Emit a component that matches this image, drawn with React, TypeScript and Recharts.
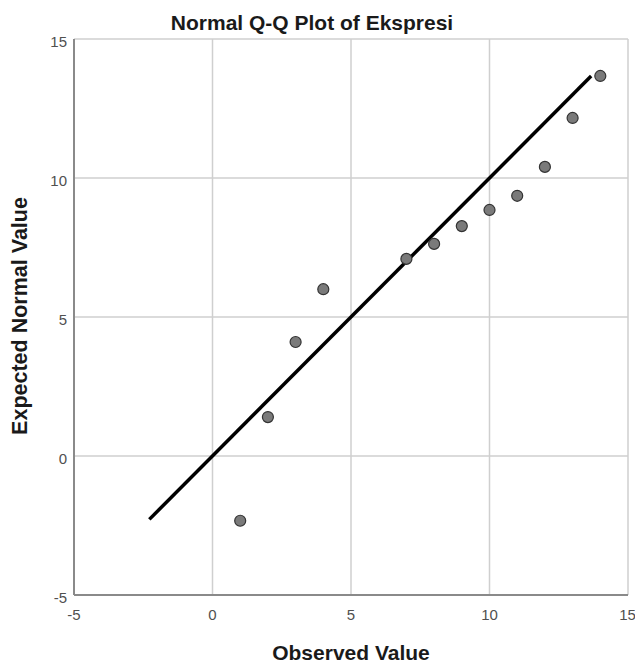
import React from "react"
import {
    ScatterChart,
    Scatter,
    XAxis,
    YAxis,
    CartesianGrid,
    ReferenceLine,
} from "recharts";

// observed values vs expected normal values
const observed = [1, 2, 3, 4, 7, 8, 9, 10, 11, 12, 13, 14]
const expected = [-2.33, 1.4, 4.1, 6.0, 7.09, 7.63, 8.27, 8.85, 9.36, 10.4, 12.16, 13.67]
const axisTicks = [-5, 0, 5, 10, 15]
const lineStart = -2.28
const lineEnd = 13.67

const points = observed.map((x, i) => ({ x, y: expected[i] }))

const FONT = "Arial, 'Liberation Sans', sans-serif"

const App: React.FC = () => {
    return (
        <div style={{ position: "absolute", left: 0, top: 0, width: 635, height: 663, background: "#fff", fontFamily: FONT }}>
            <ScatterChart width={635} height={663} margin={{ top: 39, right: 7, left: 14, bottom: 28 }}>
                <CartesianGrid stroke="#cfcfcf" strokeWidth={1.5} />
                <XAxis
                    type="number"
                    dataKey="x"
                    domain={[-5, 15]}
                    ticks={axisTicks}
                    height={40}
                    tickLine={false}
                    tickMargin={8}
                    axisLine={{ stroke: "#8a8a8a", strokeWidth: 2 }}
                    tick={{ fontSize: 15, fill: "#505050", fontFamily: FONT }}
                />
                <YAxis
                    type="number"
                    dataKey="y"
                    domain={[-5, 15]}
                    ticks={axisTicks}
                    width={60}
                    tickLine={false}
                    tickMargin={1}
                    axisLine={{ stroke: "#8a8a8a", strokeWidth: 2 }}
                    tick={{ fontSize: 15, fill: "#505050", fontFamily: FONT, dy: 3 }}
                />
                <ReferenceLine
                    segment={[{ x: lineStart, y: lineStart }, { x: lineEnd, y: lineEnd }]}
                    stroke="#000"
                    strokeWidth={3.5}
                />
                <Scatter
                    data={points}
                    fill="#7a7a7a"
                    stroke="#333"
                    strokeWidth={1.2}
                    shape={(props: any) => (
                        <circle cx={props.cx} cy={props.cy} r={5.5} fill="#7a7a7a" stroke="#333" strokeWidth={1.2} />
                    )}
                    isAnimationActive={false}
                />
            </ScatterChart>
            <svg width={635} height={663} style={{ position: "absolute", left: 0, top: 0, pointerEvents: "none" }}>
                <text x={312} y={30} textAnchor="middle" fontSize={21} fontWeight="bold" fill="#1a1a1a" fontFamily={FONT}>
                    Normal Q-Q Plot of Ekspresi
                </text>
                <text x={351} y={660} textAnchor="middle" fontSize={21} fontWeight="bold" fill="#1a1a1a" fontFamily={FONT}>
                    Observed Value
                </text>
                <text
                    x={0}
                    y={0}
                    transform="translate(27,316) rotate(-90)"
                    textAnchor="middle"
                    fontSize={21.5}
                    fontWeight="bold"
                    fill="#1a1a1a"
                    fontFamily={FONT}
                >
                    Expected Normal Value
                </text>
            </svg>
        </div>
    )
}

export default App;
